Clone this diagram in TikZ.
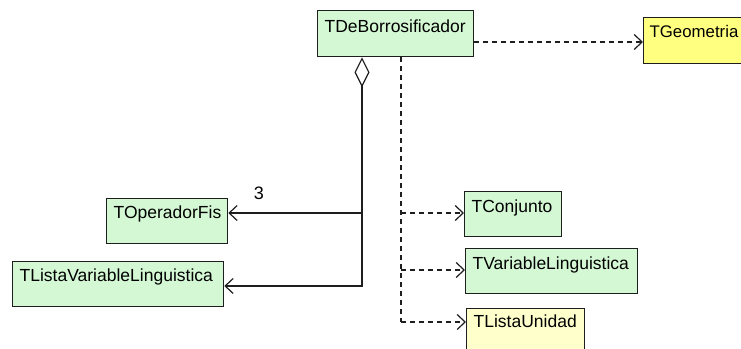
\documentclass[tikz,border=0pt]{standalone}
\usepackage{fontspec}
\setmainfont{Liberation Sans}
\usetikzlibrary{arrows.meta}
\definecolor{clsgreen}{RGB}{212,248,212}
\definecolor{clsyellow}{RGB}{255,255,128}
\definecolor{clspale}{RGB}{255,255,204}
\definecolor{lncol}{RGB}{30,30,30}
\tikzset{
  cls/.style={draw=lncol, line width=1.3pt, anchor=north west, inner xsep=7pt, inner ysep=0pt,
    align=left, font=\fontsize{17.5}{17.5}\selectfont, text height=21pt, text depth=24pt},
  green/.style={fill=clsgreen},
  yellow/.style={fill=clsyellow},
  pale/.style={fill=clspale},
  barb/.tip={Straight Barb[length=8pt,width=15pt,line width=1.2pt]},
  dep/.style={draw=lncol, line width=1.2pt, dash pattern=on 5pt off 4pt, -barb},
  assoc/.style={draw=lncol, line width=1.2pt, -barb},
  aggr/.style={draw=lncol, line width=1.2pt, {Diamond[open,length=30pt,width=15pt,line width=1.2pt]}-barb},
}
\begin{document}
\begin{tikzpicture}[x=1pt,y=-1pt]
\clip (0,0) rectangle (741,348);
\useasboundingbox (0,0) rectangle (741,348);
\fill[white] (0,0) rectangle (741,348);
\node[cls,green, text width=142pt, text height=22pt, text depth=24pt] (deb) at (317,10) {TDeBorrosificador};
\node[cls,yellow, inner xsep=6pt, text width=108pt, text height=20pt, text depth=26pt, font=\fontsize{16.8}{16.8}\selectfont] (geo) at (643,17) {TGeometria};
\node[cls,green, text width=107pt, text height=20pt, text depth=25pt] (opf) at (106,198) {TOperadorFis};
\node[cls,green, text width=197pt, text height=20pt, text depth=25pt] (lvl) at (12,261) {TListaVariableLinguistica};
\node[cls,green, text width=83pt, text height=21pt, text depth=24pt] (conj) at (464,191) {TConjunto};
\node[cls,green, text width=158pt, text height=21pt, text depth=24pt] (var) at (465,248) {TVariableLinguistica};
\node[cls,pale, text width=104pt, text height=19pt, text depth=26pt] (lun) at (466,308) {TListaUnidad};
% named levels
\coordinate (aggx) at (362,0);
\coordinate (depx) at (401,0);
\coordinate (yopf) at (0,213);
\coordinate (ylvl) at (0,286);
\coordinate (yconj) at (0,213);
\coordinate (yvar) at (0,270);
\coordinate (ylun) at (0,322);
\coordinate (ygeo) at (0,42);
% dependency to TGeometria
\draw[dep] (deb.east |- ygeo) -- (geo.west |- ygeo);
% aggregation
\draw[aggr] (deb.south -| aggx) -- (aggx |- ylvl) -- (lvl.east |- ylvl);
\draw[assoc] (aggx |- yopf) -- (opf.east |- yopf);
\node[font=\fontsize{18}{18}\selectfont] (mult) at (259,193) {3};
% dependencies
\draw[dep, -] (deb.south -| depx) -- (depx |- ylun);
\draw[dep] (depx |- yconj) -- (conj.west |- yconj);
\draw[dep] (depx |- yvar) -- (var.west |- yvar);
\draw[dep] (depx |- ylun) -- (lun.west |- ylun);
\end{tikzpicture}
\end{document}
